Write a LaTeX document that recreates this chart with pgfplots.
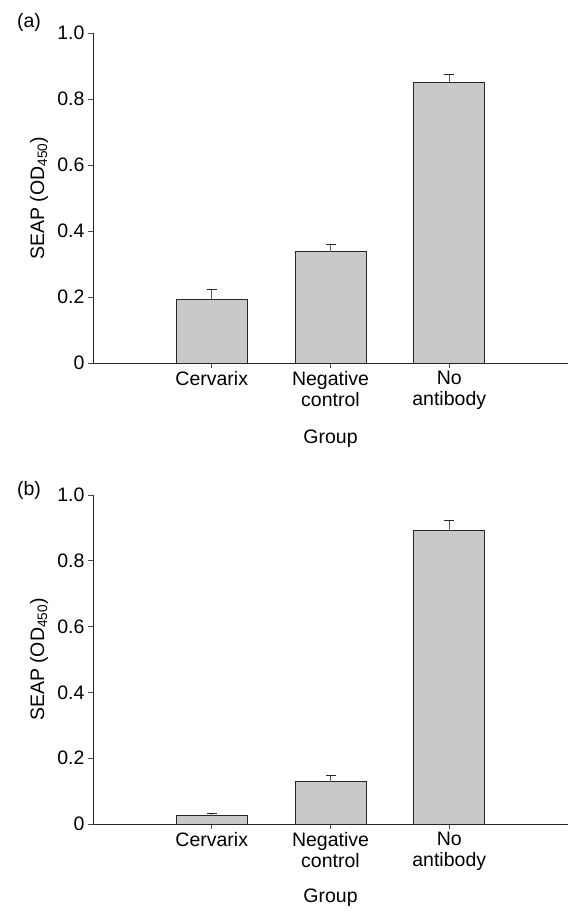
\documentclass[border=0pt]{standalone}
\usepackage{fontspec}
\setmainfont{Liberation Sans}
\usepackage{pgfplots}
\pgfplotsset{compat=1.18}
\definecolor{barfill}{HTML}{C8C9CB}
\begin{document}
\begin{tikzpicture}[x=1pt,y=1pt]
\useasboundingbox (0,0) rectangle (568,914);
\pgfplotsset{
 myaxis/.style={
  scale only axis, width=475pt, height=330pt,
  xmin=0, xmax=4, ymin=0, ymax=1,
  axis x line*=bottom, axis y line*=left,
  axis line style={-, draw=black!85, line width=0.9pt},
  xtick={1,2,3},
  xticklabels={Cervarix, Negative\\control, No\\antibody},
  xticklabel style={align=center, font=\fontsize{19.5}{21}\selectfont},
  ytick={0,0.2,0.4,0.6,0.8,1.0},
  yticklabels={0,0.2,0.4,0.6,0.8,1.0},
  yticklabel style={font=\fontsize{19.5}{21}\selectfont},
  tick align=outside, major tick length=5pt,
  tick style={draw=black!70, line width=0.9pt},
  ylabel={SEAP (OD\textsubscript{450})},
  ylabel style={font=\fontsize{19.5}{21}\selectfont, at={(axis description cs:-0.1137,0.5)}, anchor=center},
  xlabel={Group},
  xlabel style={font=\fontsize{19.5}{21}\selectfont, at={(axis description cs:0.5,0)}, yshift=-76pt, anchor=center},
  /pgf/number format/assume math mode=true,
  clip=false,
 },
 mybar/.style={
  ybar, bar width=71pt, fill=barfill, draw=black!85, line width=0.9pt,
  error bars/.cd, y dir=plus, y explicit,
  error bar style={draw=black!65, line width=1pt},
  error mark options={rotate=90, mark size=5pt, line width=1pt, draw=black!85},
 },
}
\begin{axis}[myaxis, at={(93pt,551pt)}, anchor=south west]
\addplot[mybar] coordinates {
 (1,0.193) +- (0,0.030)
 (2,0.337) +- (0,0.023)
 (3,0.851) +- (0,0.024)
};
\end{axis}
\begin{axis}[myaxis, height=329pt, at={(93pt,90pt)}, anchor=south west, xlabel style={yshift=2pt}]
\addplot[mybar] coordinates {
 (1,0.025) +- (0,0.006)
 (2,0.128) +- (0,0.020)
 (3,0.892) +- (0,0.030)
};
\end{axis}
\node[font=\fontsize{19.5}{21}\selectfont] at (29,892) {(a)};
\node[font=\fontsize{19.5}{21}\selectfont] at (29,424) {(b)};
\end{tikzpicture}
\end{document}
